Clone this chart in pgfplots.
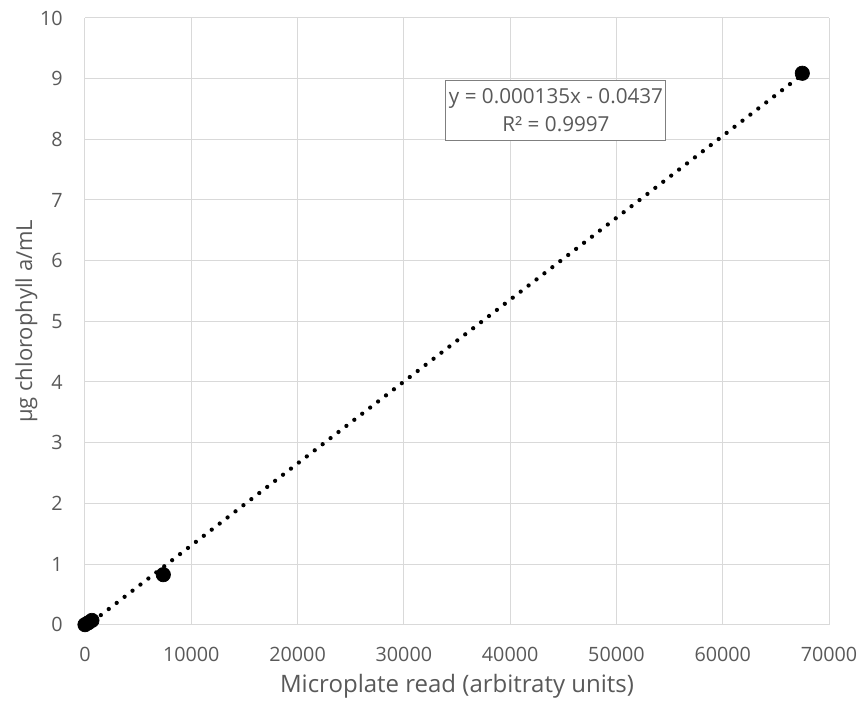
\documentclass[border=0pt]{standalone}
\usepackage{pgfplots}
\pgfplotsset{compat=1.18}
\usepackage{fontspec}
\setmainfont{Open Sans}
\definecolor{txtgray}{HTML}{595959}
\definecolor{gridgray}{HTML}{D9D9D9}
\definecolor{boxgray}{HTML}{7F7F7F}
\begin{document}
\begin{tikzpicture}
\begin{axis}[
  scale only axis,
  width=558pt, height=455pt,
  xmin=0, xmax=70000, ymin=0, ymax=10,
  xtick={0,10000,...,70000}, ytick={0,1,...,10},
  /pgf/number format/1000 sep={},
  /pgf/number format/assume math mode=true,
  scaled x ticks=false,
  grid=major,
  major grid style={gridgray, line width=0.75pt},
  axis line style={draw=none},
  axis x line*=bottom, axis y line*=left,
  x axis line style={draw=gridgray, line width=0.75pt},
  tick style={draw=none},
  ticklabel style={font=\fontsize{14.8}{16}\selectfont, text=txtgray, inner sep=0pt},
  xticklabel style={anchor=north, yshift=-17pt},
  yticklabel style={anchor=east, xshift=-16.5pt},
  xlabel={Microplate read (arbitraty units)},
  ylabel={µg chlorophyll a/mL},
  xlabel style={font=\fontsize{18}{21}\selectfont, text=txtgray, at={(axis description cs:0.5,-0.112)}, anchor=base},
  ylabel style={font=\fontsize{16.5}{20}\selectfont, text=txtgray, at={(axis description cs:-0.0712,0.5)}, anchor=base},
  clip=false,
]
\addplot[black, line width=3.2pt, line cap=round, dash pattern=on 0pt off 7.5pt, domain=0:67487, samples=2] {0.000135*x - 0.0437};
\addplot[only marks, mark=*, mark size=5.4pt, black, mark options={line width=0.5pt}] coordinates {
  (0,0) (300,0.03) (650,0.07) (7367,0.824) (67487,9.089)
};
\node[draw=boxgray, line width=0.75pt, fill=white, text=txtgray, font=\fontsize{15.5}{21}\selectfont, align=center, inner sep=0pt, minimum width=165pt, minimum height=45pt] at (axis cs:44313,8.48) {y = 0.000135x - 0.0437\\R² = 0.9997};
\coordinate (ll) at (rel axis cs:0,0);
\coordinate (ur) at (rel axis cs:1,1);
\end{axis}
\pgfresetboundingbox
\path ([shift={(-63.75pt,-63pt)}]ll) rectangle ([shift={(24pt,13.5pt)}]ur);
\end{tikzpicture}
\end{document}
